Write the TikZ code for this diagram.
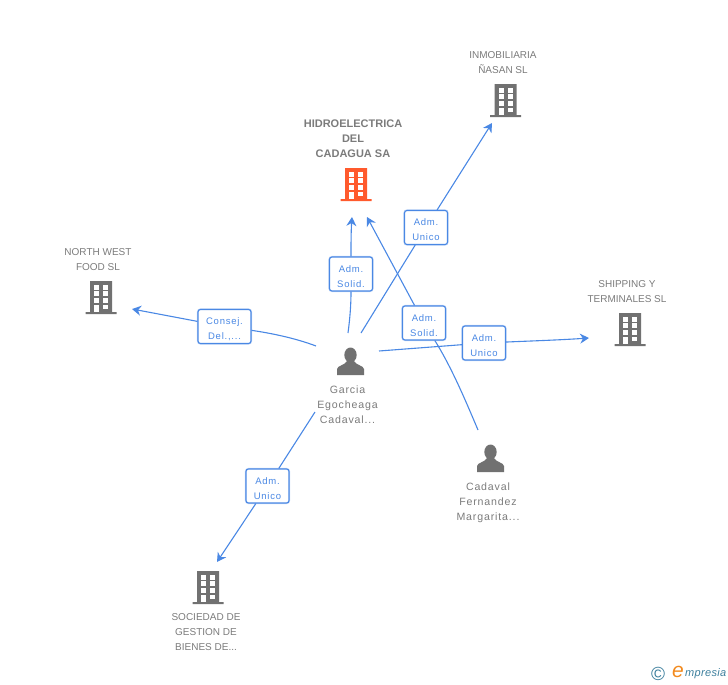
\documentclass[tikz,border=0pt]{standalone}
\usepackage{fontspec}
\setmainfont{Liberation Sans}
\newfontfamily\boxfont[LetterSpace=8]{Liberation Sans}
\newfontfamily\logofont[LetterSpace=3]{Liberation Sans}
\usetikzlibrary{arrows.meta,positioning}
\definecolor{linkblue}{HTML}{4A88E4}
\definecolor{iconcol}{HTML}{717171}
\definecolor{textcol}{HTML}{7B7B7B}
\definecolor{mainorange}{HTML}{FF5A2D}
\definecolor{logoblue}{HTML}{3B7E9C}
\definecolor{logoorange}{HTML}{F28A1E}
\tikzset{>={Stealth[length=9pt,width=10pt]}}
\tikzset{
    link/.style={draw=linkblue,line width=1.1pt},
    role/.style={draw=linkblue,line width=1.1pt,fill=white,rounded corners=2.5pt,align=center,
        preaction={draw=linkblue!35,line width=2.2pt},
        minimum width=43pt,minimum height=34pt,inner sep=0pt,text=linkblue,
        text height=26pt,text depth=0pt,
        font=\boxfont\fontsize{9.5}{15}\selectfont},
    entity/.style={align=center,inner sep=0pt,text=textcol,font=\fontsize{10}{15}\selectfont},
    personname/.style={entity,font=\boxfont\fontsize{10.6}{15}\selectfont},
    iconspot/.style={minimum width=32pt,minimum height=34pt,inner sep=0pt},
    personspot/.style={minimum width=28pt,minimum height=28pt,inner sep=0pt},
    pics/building/.style={code={
        \fill[#1] (-15.5,16) rectangle (15.5,14) (-11,14) rectangle (11,-17);
        \foreach \row in {-12.7,-6.7,0.3} {
            \fill[white] (-6.7,\row) rectangle (-1.7,\row+4.4);
            \fill[white] (2.3,\row) rectangle (7.3,\row+4.4);
        }
        \fill[white] (2.3,6.7) rectangle (7.3,11);
        \fill[white] (-6.7,6.7) rectangle (-1.7,14);
    }},
    pics/person/.style={code={
        \fill[iconcol] (0,-7) ellipse (6.2 and 7.5);
        \fill[iconcol] (-13.5,13) -- (-13.5,7) .. controls (-13,3.5) and (-6,3.5) .. (-3.5,-1)
            -- (3.5,-1) .. controls (6,3.5) and (13,3.5) .. (13.5,7) -- (13.5,13) -- cycle;
    }}
}
\begin{document}
\begin{tikzpicture}[x=1pt,y=-1pt]
        \useasboundingbox (0,0) rectangle (728,685);

        % nodes
        \node [entity,font=\bfseries\fontsize{11}{15}\selectfont] (hidrolabel) at (353,139) {HIDROELECTRICA\\DEL\\CADAGUA SA};
        \node [iconspot] (hidro) at (356,185) {};
        \node [entity] (inmolabel) at (503,63) {INMOBILIARIA\\ÑASAN SL};
        \node [iconspot] (inmo) at (505.5,101) {};
        \node [entity] (northlabel) at (98,260) {NORTH WEST\\FOOD SL};
        \node [iconspot] (north) at (101,298) {};
        \node [entity] (shiplabel) at (627,292) {SHIPPING Y\\TERMINALES SL};
        \node [iconspot] (ship) at (630,330) {};
        \node [entity] (socilabel) at (206,632) {SOCIEDAD DE\\GESTION DE\\BIENES DE...};
        \node [iconspot] (soci) at (208,588) {};
        \node [personspot] (garcia) at (350.5,362) {};
        \node [personname] (garcialabel) at (347.5,405) {Garcia\\Egocheaga\\Cadaval...};
        \node [personspot] (cadaval) at (490.5,459) {};
        \node [personname] (cadavallabel) at (488,503) {Cadaval\\Fernandez\\Margarita...};

        \node [role] (solid) at (351,274) {Adm.\\Solid.};
        \node [role] (unico) at (426,227.5) {Adm.\\Unico};
        \node [role,minimum width=53pt] (consej) at (224.5,326.5) {Consej.\\Del.,...};
        \node [role] (solidb) at (424,323) {Adm.\\Solid.};
        \node [role] (unicob) at (484,343) {Adm.\\Unico};
        \node [role] (unicoc) at (267.5,486) {Adm.\\Unico};

        % free ends of the connectors
        \coordinate (g1) at (348,333);
        \coordinate (g2) at (361,333);
        \coordinate (g3) at (379,351);
        \coordinate (g4) at (316,346);
        \coordinate (g5) at (315,412);
        \coordinate (c1) at (478,430);
        \coordinate (hidroleft) at (352,217);
        \coordinate (hidroright) at (367,217);
        \coordinate (inmoend) at (492,123);
        \coordinate (northend) at (132,309);
        \coordinate (shipend) at (589,338);
        \coordinate (sociend) at (217,562);

        % arrows
        \draw [link] (g1) .. controls (350,318) and (351,305) .. (solid);
        \draw [link,->] (solid) .. controls (351,245) and (351,232) .. (hidroleft);
        \draw [link] (g2) -- (unico);
        \draw [link,->] (unico) -- (inmoend);
        \draw [link] (g4) .. controls (295,338) and (270,333) .. (consej);
        \draw [link,->] (consej) -- (northend);
        \draw [link] (g3) -- (unicob);
        \draw [link,->] (unicob) .. controls (530,341) and (560,340) .. (shipend);
        \draw [link] (g5) -- (unicoc);
        \draw [link,->] (unicoc) -- (sociend);
        \draw [link] (c1) .. controls (462,392) and (450,365) .. (solidb);
        \draw [link,->] (solidb) -- (hidroright);

        % icons
        \pic at (hidro) {building=mainorange};
        \pic at (inmo) {building=iconcol};
        \pic at (north) {building=iconcol};
        \pic at (ship) {building=iconcol};
        \pic at (soci) {building=iconcol};
        \pic at (garcia) {person};
        \pic at (cadaval) {person};

        % logo
        \node [inner sep=0pt,text=logoblue,font=\fontsize{19}{19}\selectfont] (copyr) at (658,673.5) {©};
        \node [inner sep=0pt,text=logoorange,font=\itshape\fontsize{21}{21}\selectfont] (logoe) at (678,672) {e};
        \node [inner sep=0pt,text=logoblue,font=\logofont\itshape\fontsize{11}{11}\selectfont,anchor=west] (logotext) at (685,674) {mpresia};
    \end{tikzpicture}
\end{document}
